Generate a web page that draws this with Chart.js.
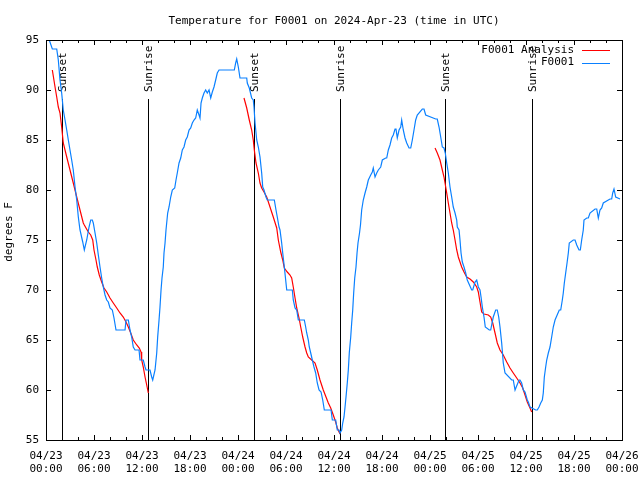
<!DOCTYPE html>
<html>
<head>
<meta charset="utf-8">
<script src="https://cdn.jsdelivr.net/npm/chart.js@4"></script>
<style>
html,body{margin:0;padding:0;background:#fff;}
canvas{display:block;}
</style>
</head>
<body>
<canvas id="c" width="640" height="480"></canvas>
<script>
// ---- Data (hours since 04/23 00:00 UTC, temperature in degrees F) ----
const obsHours = [0.41,0.79,1.34,1.54,1.75,1.96,2.16,2.38,2.59,2.79,3.0,3.21,3.41,3.63,3.84,4.04,4.25,4.59,4.79,5.09,5.38,5.59,5.79,5.91,6.13,6.34,6.54,6.75,6.96,7.16,7.38,7.59,7.79,8.0,8.29,8.5,8.75,9.88,10.0,10.29,10.5,10.71,10.91,11.13,11.63,11.75,12.16,12.38,12.5,13.0,13.21,13.34,13.63,13.84,13.96,14.13,14.25,14.38,14.5,14.66,14.75,14.88,15.0,15.21,15.38,15.59,15.79,16.09,16.25,16.41,16.63,16.84,17.04,17.25,17.46,17.66,17.88,18.09,18.29,18.5,18.71,18.91,19.13,19.25,19.38,19.54,19.75,19.96,20.16,20.38,20.59,20.79,21.0,21.21,21.41,21.63,23.54,23.71,23.84,24.04,24.25,25.09,25.16,25.41,25.71,25.91,26.0,26.13,26.34,26.54,26.75,26.96,27.09,27.25,27.5,27.66,28.54,28.75,28.91,29.13,29.25,29.46,29.59,29.66,29.79,29.96,30.09,30.79,30.91,31.13,31.34,31.54,32.29,32.46,32.59,32.79,32.91,33.09,33.29,33.5,33.71,33.91,34.13,34.38,34.59,34.79,35.63,35.79,36.21,36.41,36.63,36.75,36.96,37.09,37.25,37.38,37.5,37.66,37.79,37.91,38.09,38.21,38.34,38.46,38.59,38.75,38.88,39.0,39.19,39.31,39.46,39.66,39.88,40.09,40.29,40.59,40.79,40.91,41.13,41.34,41.54,41.84,42.04,42.46,42.59,42.79,43.0,43.21,43.41,43.63,43.75,43.91,44.13,44.34,44.46,44.66,44.88,45.09,45.38,45.59,45.79,46.0,46.21,46.41,47.04,47.25,47.46,48.71,48.91,49.13,49.34,49.54,49.75,49.91,50.09,50.29,50.5,50.71,50.91,51.13,51.34,51.41,51.63,51.75,51.88,52.04,52.25,52.46,52.66,53.21,53.34,53.63,53.84,54.04,54.25,54.38,54.54,54.75,54.91,55.41,55.59,55.75,55.91,56.21,56.41,56.59,56.75,56.96,57.16,57.38,58.21,58.41,58.63,59.13,59.25,59.46,59.66,59.88,60.16,60.29,60.5,61.21,61.41,61.63,61.84,62.04,62.16,62.29,62.46,62.59,62.79,63.0,63.21,63.41,63.63,64.16,64.34,64.54,64.66,64.79,64.96,65.13,65.29,65.41,65.91,66.13,66.34,66.63,66.79,66.96,67.16,67.25,67.59,67.79,68.0,68.63,68.84,69.04,69.25,69.46,69.66,70.5,70.71,70.84,71.0,71.21,71.75];
const obsTemps = [95.0,94.1,94.1,93.0,91.0,89.7,88.0,87.0,86.0,85.0,84.0,83.0,82.0,80.3,79.0,77.3,76.0,74.8,74.0,75.0,76.3,77.0,77.0,76.7,75.7,74.7,73.5,72.3,71.2,70.3,69.5,69.0,68.8,68.2,68.0,67.2,66.0,66.0,67.0,67.0,66.0,65.3,64.3,64.0,64.0,63.0,63.0,62.3,62.0,62.0,61.3,61.0,62.0,63.7,65.3,67.0,68.3,70.0,71.2,72.3,73.7,74.7,76.0,77.7,78.3,79.3,80.0,80.2,81.0,81.7,82.7,83.2,84.0,84.3,85.0,85.3,86.0,86.2,86.7,87.0,87.2,88.0,87.5,87.2,88.7,89.2,89.7,90.0,89.7,90.0,89.2,89.8,90.3,91.0,91.7,92.0,92.0,92.7,93.1,92.3,91.2,91.2,90.7,90.2,89.2,89.0,88.3,86.7,85.0,84.3,83.3,81.7,80.3,80.0,79.3,79.0,79.0,78.0,77.3,76.3,76.0,74.7,73.7,73.2,72.3,71.0,70.0,70.0,69.0,68.2,68.0,67.0,67.0,66.3,65.7,65.0,64.3,63.7,63.0,62.3,61.7,60.7,60.0,59.8,59.0,58.0,58.0,57.0,57.0,56.0,56.0,55.7,56.0,56.7,57.3,58.3,59.3,60.7,62.0,63.7,65.3,66.7,68.0,69.7,71.2,72.3,73.7,74.7,75.7,76.5,78.0,79.0,79.7,80.3,81.0,81.5,81.8,82.2,81.3,81.7,82.0,82.3,83.0,83.2,83.2,84.0,84.5,85.2,85.5,86.1,86.1,85.2,86.0,86.3,87.0,86.0,85.2,84.7,84.2,84.2,85.0,86.0,87.0,87.5,88.1,88.1,87.5,87.1,87.1,86.3,85.3,84.3,84.2,83.7,82.7,81.7,80.3,79.3,78.3,77.7,77.0,76.3,76.0,75.0,73.7,72.8,72.3,71.7,71.0,70.0,70.0,70.8,71.0,70.3,70.0,69.3,68.3,67.3,66.3,66.0,66.0,66.7,67.3,68.0,68.0,67.3,66.3,64.7,62.7,61.7,61.0,61.0,60.0,61.0,61.0,60.7,60.0,59.8,59.0,58.8,58.3,58.0,58.0,58.3,58.7,59.0,59.7,61.3,62.3,63.0,63.7,64.3,65.3,66.3,67.0,68.0,68.0,69.0,69.7,70.7,71.7,72.7,73.7,74.7,75.0,75.0,74.5,74.0,74.0,75.0,76.0,77.0,77.2,77.2,77.7,78.1,78.1,77.2,78.0,78.2,78.7,79.1,79.1,79.7,80.1,79.3,79.1,79.1];

// Analysis (three night-time segments, null separates them)
const anaHours = [0.79,1.13,1.34,1.54,1.75,1.96,2.16,2.59,3.0,3.41,3.84,4.25,4.66,4.79,5.0,5.29,5.59,5.84,6.0,6.25,6.41,6.66,6.96,7.25,7.59,8.0,8.41,8.84,9.25,9.66,10.0,10.29,10.59,10.91,11.34,11.66,11.88,11.96,12.16,12.38,12.59,12.79,
  12.8,
  24.75,25.09,25.41,25.71,25.91,26.04,26.25,26.54,26.75,26.96,27.25,27.59,28.0,28.41,28.84,29.04,29.34,29.59,29.79,30.16,30.5,30.71,30.91,31.13,31.34,31.63,31.84,32.09,32.38,32.59,32.79,33.21,33.63,33.91,34.25,34.66,35.0,35.29,35.59,35.91,36.21,36.41,36.75,
  36.8,
  48.63,48.91,49.25,49.54,49.75,49.88,50.09,50.29,50.5,50.71,50.91,51.13,51.34,51.54,51.75,51.96,52.25,52.59,53.0,53.41,53.84,54.04,54.25,54.46,54.75,55.29,55.59,55.84,56.13,56.41,56.75,57.16,57.59,58.0,58.41,58.84,59.25,59.59,59.88,60.16,60.5,60.71];
const anaTemps = [92.0,90.3,89.3,88.3,87.7,86.3,84.7,83.3,82.0,80.7,79.3,78.0,76.7,76.5,76.2,75.8,75.5,75.0,74.0,73.0,72.3,71.5,70.8,70.2,69.8,69.2,68.7,68.2,67.7,67.3,66.8,66.3,65.7,65.0,64.5,64.2,63.8,63.0,62.3,61.3,60.5,59.7,
  null,
  89.2,88.2,87.0,86.0,85.0,84.0,82.7,81.7,80.7,80.2,79.8,79.3,78.3,77.3,76.2,75.0,73.8,73.0,72.2,71.8,71.5,71.2,70.3,69.2,68.2,67.2,66.3,65.3,64.3,63.7,63.3,63.0,62.7,62.0,61.0,60.0,59.3,58.7,58.2,57.5,56.8,56.2,55.6,
  null,
  84.2,83.7,83.0,82.0,81.3,80.7,79.7,78.7,77.7,76.7,76.0,75.0,74.0,73.3,72.8,72.3,71.8,71.3,71.1,70.8,70.3,69.8,68.8,67.8,67.6,67.5,67.3,66.7,65.7,64.7,64.0,63.5,62.8,62.2,61.7,61.2,60.7,60.2,59.5,58.8,58.2,57.8];

const sunsetHours = [2.04, 26.04, 49.91];
const sunriseHours = [12.79, 36.79, 60.79];
const sunLineTopTemp = 89.1;

const tickDays = ['04/23','04/23','04/23','04/23','04/24','04/24','04/24','04/24','04/25','04/25','04/25','04/25','04/26'];
const tickTimes = ['00:00','06:00','12:00','18:00','00:00','06:00','12:00','18:00','00:00','06:00','12:00','18:00','00:00'];

const titleText = 'Temperature for F0001 on 2024-Apr-23 (time in UTC)';
const yLabelText = 'degrees F';
const seriesNames = ['F0001 Analysis', 'F0001'];
const seriesColors = ['#ff0000', '#0a80ff'];

const FONT = '11px "DejaVu Sans Mono", monospace';

const obsData = obsHours.map((h, i) => ({x: h, y: obsTemps[i]}));
const anaData = anaHours.map((h, i) => ({x: h, y: anaTemps[i]}));

const decor = {
  id: 'decor',
  beforeDatasetsDraw(chart) {
    const {ctx, chartArea: a, scales: {x, y}} = chart;
    ctx.save();
    ctx.strokeStyle = '#000';
    ctx.lineWidth = 1;
    const topPx = Math.round(y.getPixelForValue(sunLineTopTemp));
    const events = [];
    sunsetHours.forEach(h => events.push([h, 'Sunset']));
    sunriseHours.forEach(h => events.push([h, 'Sunrise']));
    events.forEach(([h, label]) => {
      const px = Math.round(x.getPixelForValue(h)) + 0.5;
      ctx.beginPath();
      ctx.moveTo(px, topPx);
      ctx.lineTo(px, a.bottom);
      ctx.stroke();
      ctx.save();
      ctx.translate(px + 1, topPx - 7);
      ctx.rotate(-Math.PI / 2);
      ctx.font = FONT;
      ctx.fillStyle = '#000';
      ctx.textAlign = 'left';
      ctx.textBaseline = 'middle';
      ctx.fillText(label, 0, 0);
      ctx.restore();
    });
    ctx.restore();
  },
  afterDraw(chart) {
    const {ctx, chartArea: a, scales: {x, y}} = chart;
    ctx.save();
    ctx.strokeStyle = '#000';
    ctx.lineWidth = 1;
    ctx.strokeRect(Math.round(a.left) + 0.5, Math.round(a.top) + 0.5, Math.round(a.right - a.left), Math.round(a.bottom - a.top));
    ctx.beginPath();
    for (let h = 0; h <= 72; h += 2) {
      const px = Math.round(x.getPixelForValue(h)) + 0.5;
      const len = (h % 6 === 0) ? 5 : 3;
      ctx.moveTo(px, a.bottom); ctx.lineTo(px, a.bottom - len);
      ctx.moveTo(px, a.top); ctx.lineTo(px, a.top + len);
    }
    for (let t = 55; t <= 95; t += 5) {
      const py = Math.round(y.getPixelForValue(t)) + 0.5;
      ctx.moveTo(a.left, py); ctx.lineTo(a.left + 5, py);
      ctx.moveTo(a.right, py); ctx.lineTo(a.right - 5, py);
    }
    ctx.stroke();

    ctx.font = FONT;
    ctx.fillStyle = '#000';
    ctx.textAlign = 'center';
    ctx.textBaseline = 'middle';
    ctx.fillText(titleText, (a.left + a.right) / 2, 21);
    ctx.save();
    ctx.translate(9, 232);
    ctx.rotate(-Math.PI / 2);
    ctx.textAlign = 'center';
    ctx.textBaseline = 'middle';
    ctx.fillText(yLabelText, 0, 0);
    ctx.restore();
    const rows = [50, 62.5];
    seriesNames.forEach((name, i) => {
      ctx.textAlign = 'right';
      ctx.textBaseline = 'middle';
      ctx.fillStyle = '#000';
      ctx.fillText(name, 574, rows[i]);
      ctx.strokeStyle = seriesColors[i];
      ctx.beginPath();
      ctx.moveTo(582, Math.round(rows[i]) + 0.5);
      ctx.lineTo(610, Math.round(rows[i]) + 0.5);
      ctx.stroke();
    });
    ctx.restore();
  }
};

new Chart(document.getElementById('c'), {
  type: 'line',
  data: {
    datasets: [
      {label: seriesNames[1], data: obsData, borderColor: seriesColors[1], borderWidth: 1.2, pointRadius: 0, tension: 0, fill: false},
      {label: seriesNames[0], data: anaData, borderColor: seriesColors[0], borderWidth: 1.2, pointRadius: 0, tension: 0, fill: false, spanGaps: false}
    ]
  },
  options: {
    responsive: false,
    animation: false,
    devicePixelRatio: 1,
    layout: {padding: {top: 40, right: 18, left: 0, bottom: 0}},
    plugins: {legend: {display: false}, title: {display: false}, tooltip: {enabled: false}},
    scales: {
      x: {
        type: 'linear', min: 0, max: 72,
        grid: {display: false, drawTicks: false},
        border: {display: false},
        ticks: {
          stepSize: 6, padding: 9, maxRotation: 0, autoSkip: false, color: '#000',
          font: {family: '"DejaVu Sans Mono", monospace', size: 11, lineHeight: 1.25},
          callback: (v) => { const i = Math.round(v / 6); return [tickDays[i], tickTimes[i]]; }
        },
        afterFit(s) { s.height = 40; s.paddingLeft = 0; s.paddingRight = 0; }
      },
      y: {
        type: 'linear', min: 55, max: 95,
        grid: {display: false, drawTicks: false},
        border: {display: false},
        ticks: {stepSize: 5, padding: 7, color: '#000', font: {family: '"DejaVu Sans Mono", monospace', size: 11}},
        afterFit(s) { s.width = 46; s.paddingTop = 0; s.paddingBottom = 0; }
      }
    }
  },
  plugins: [decor]
});
</script>
</body>
</html>
